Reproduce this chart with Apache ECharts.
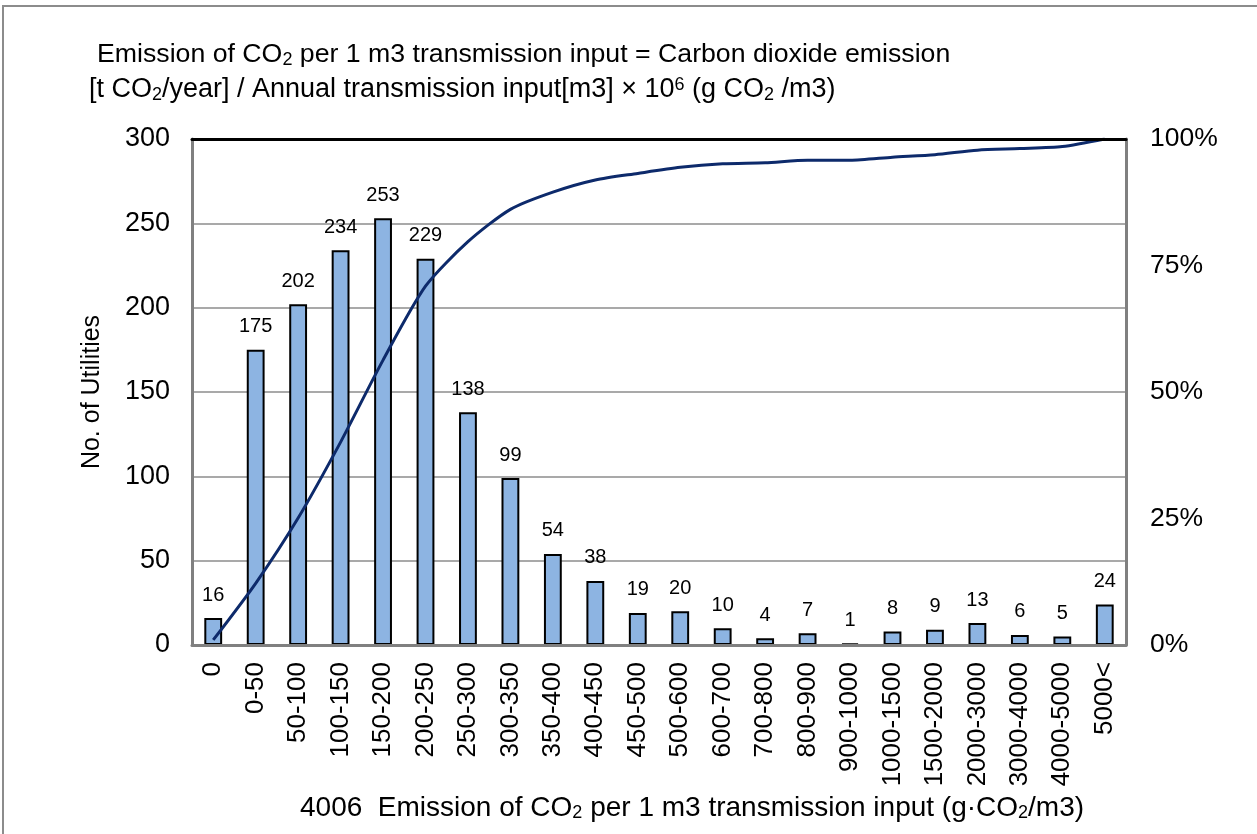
<!DOCTYPE html>
<html>
<head>
<meta charset="utf-8">
<script src="https://cdn.jsdelivr.net/npm/echarts@6/dist/echarts.min.js"></script>
<style>
html,body{margin:0;padding:0;background:#fff;}
#chart{width:1257px;height:834px;}
</style>
</head>
<body>
<div id="chart"></div>
<script>
const categories = ['0','0-50','50-100','100-150','150-200','200-250','250-300','300-350','350-400','400-450','450-500','500-600','600-700','700-800','800-900','900-1000','1000-1500','1500-2000','2000-3000','3000-4000','4000-5000','5000<'];
const utilities = [16,175,202,234,253,229,138,99,54,38,19,20,10,4,7,1,8,9,13,6,5,24];
const cumulativePct = [1.0,12.2,25.1,40.1,56.3,70.9,79.7,86.1,89.5,91.9,93.2,94.4,95.1,95.3,95.8,95.8,96.4,96.9,97.8,98.1,98.5,100];
const leftTicks = [0,50,100,150,200,250,300];
const rightTicks = [0,25,50,75,100];

const FONT = '"Liberation Sans", Arial, sans-serif';
const chart = echarts.init(document.getElementById('chart'), null, {renderer:'canvas'});
const subStyle = {fontSize:18, fontFamily:FONT, padding:[11,0,0,0]};
const option = {
  backgroundColor:'#fff',
  animation:false,
  textStyle:{fontFamily:FONT},
  graphic:[
    {type:'rect', shape:{x:3,y:6,width:1270,height:900}, style:{fill:'none',stroke:'#8c8c8c',lineWidth:2}},
    {type:'text', left:97, top:41, style:{
      text:'Emission of CO{sub|2} per 1 m3 transmission input = Carbon dioxide emission',
      font:'26.7px '+FONT, fill:'#000',
      rich:{sub:subStyle}
    }},
    {type:'text', left:89, top:76, style:{
      text:'[t CO{sub|2}/year] / Annual transmission input[m3] × 10{sup|6} (g CO{sub|2} /m3)',
      font:'27px '+FONT, fill:'#000',
      rich:{sub:subStyle, sup:{fontSize:18, fontFamily:FONT, padding:[0,0,10,0]}}
    }},
    {type:'text', left:300, top:794, style:{
      text:'4006  Emission of CO{sub|2} per 1 m3 transmission input (g·CO{sub|2}/m3)',
      font:'28px '+FONT, fill:'#000',
      rich:{sub:subStyle}
    }}
  ],
  grid:{left:192, right:131, top:139, height:506, containLabel:false},
  xAxis:[
    {type:'category', data:categories, boundaryGap:true,
     axisLine:{show:true, lineStyle:{color:'#808080', width:3}},
     axisTick:{show:false},
     axisLabel:{rotate:90, fontSize:26, color:'#000', margin:17, fontFamily:FONT, interval:0},
     z:10},
    {type:'category', data:categories, position:'top',
     axisLine:{show:true, onZero:false, lineStyle:{color:'#000', width:3}},
     axisTick:{show:false}, axisLabel:{show:false}, z:10}
  ],
  yAxis:[
    {type:'value', min:0, max:300, interval:50, position:'left',
     axisLine:{show:true, lineStyle:{color:'#808080', width:3}},
     axisTick:{show:false},
     axisLabel:{fontSize:27, color:'#000', margin:22, fontFamily:FONT},
     splitLine:{show:true, lineStyle:{color:'#8c8c8c', width:1.5}},
     name:'No. of Utilities', nameLocation:'middle', nameGap:87, nameRotate:90,
     nameTextStyle:{fontSize:25, color:'#000', fontFamily:FONT}},
    {type:'value', min:0, max:100, interval:25, position:'right',
     axisLine:{show:true, lineStyle:{color:'#808080', width:3}},
     axisTick:{show:false},
     axisLabel:{fontSize:26.5, color:'#000', margin:24, fontFamily:FONT, formatter:'{value}%'},
     splitLine:{show:false}}
  ],
  series:[
    {type:'bar', data:utilities, xAxisIndex:0, yAxisIndex:0, barWidth:'42%',
     itemStyle:{color:'#8DB4E2', borderColor:'#000', borderWidth:2},
     label:{show:true, position:'top', distance:13, fontSize:20, color:'#000', fontFamily:FONT}},
    {type:'line', data:cumulativePct, xAxisIndex:0, yAxisIndex:1, smooth:0.25,
     showSymbol:false, symbol:'none',
     lineStyle:{color:'#0d2a6b', width:3}, z:5}
  ]
};
chart.setOption(option);
</script>
</body>
</html>
